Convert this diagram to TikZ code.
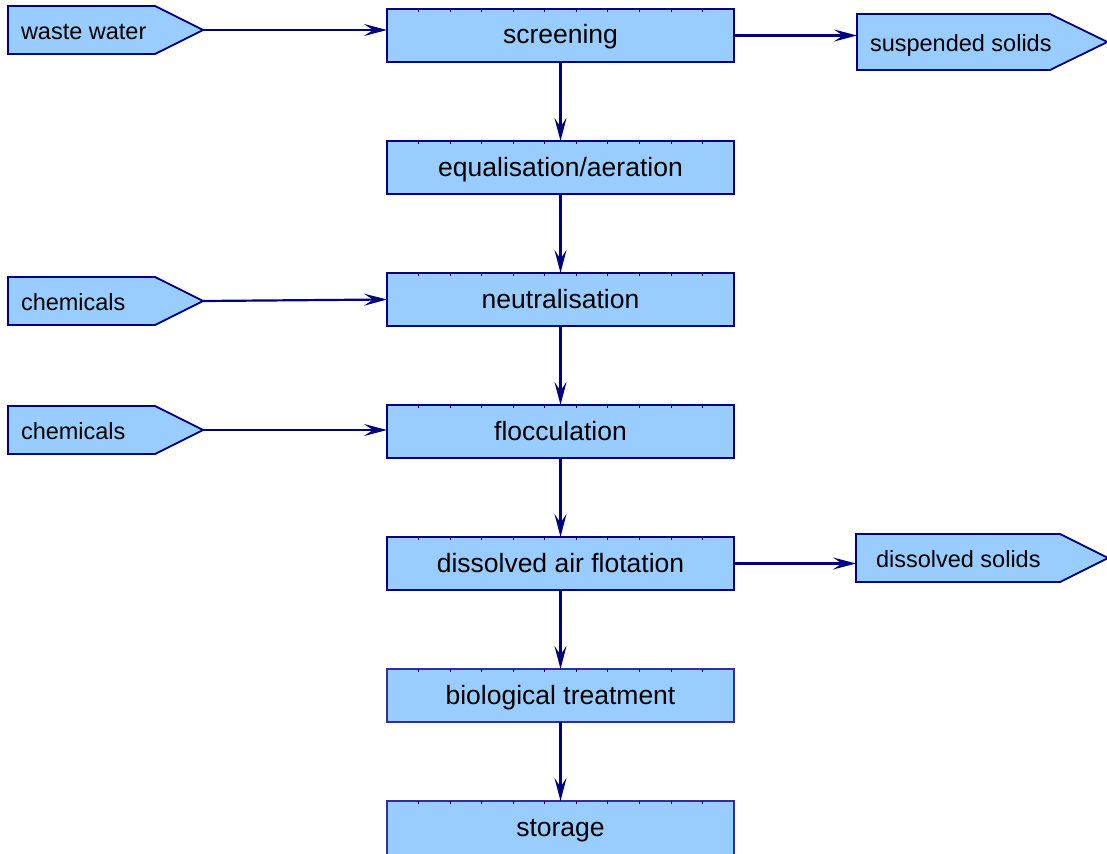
\documentclass[tikz,border=0pt]{standalone}
\usepackage{fontspec}
\setmainfont{Liberation Sans}
\usetikzlibrary{arrows.meta, positioning, shapes.symbols, calc}
\definecolor{boxfill}{RGB}{153,204,255}
\definecolor{boxline}{RGB}{0,0,128}
\definecolor{boxlinelight}{RGB}{48,48,150}

\newcommand{\taglabel}[2][121pt]{\makebox[#1][l]{#2}}

\begin{document}
\begin{tikzpicture}[
        x=1pt, y=-1pt,
        stage/.style={draw=boxline, fill=boxfill, line width=2pt, minimum width=347pt,
            minimum height=53pt, inner sep=0pt, outer sep=0pt, text height=22.5pt, text depth=5.5pt,
            font=\fontsize{26.5}{30}\selectfont},
        tagin/.style={signal, signal to=east, signal pointer angle=53, draw=boxline, fill=boxfill,
            line width=1.8pt, minimum height=48pt, inner xsep=13pt, inner ysep=0pt, outer sep=0pt,
            text height=23pt, text depth=4pt, font=\fontsize{23.5}{27}\selectfont},
        flow/.style={draw=boxline, line width=2.2pt, -{Stealth[length=23pt, width=12pt, inset=9pt]}}
    ]
        \clip (0,0) rectangle (1107,853);

        % main line of the plant
        \node[stage] (screening) at (560.5,35.5) {screening};
        \node[stage, below=79pt of screening] (equal) {equalisation/aeration};
        \node[stage, below=79pt of equal] (neutral) {neutralisation};
        \node[stage, below=79pt of neutral] (floc) {flocculation};
        \node[stage, below=79pt of floc] (daf) {dissolved air flotation};
        \node[stage, draw=boxlinelight, below=79pt of daf] (bio) {biological treatment};
        \node[stage, draw=boxlinelight, below=79pt of bio, minimum height=60pt, text depth=12.5pt] (storage) {storage};

        % small ticks along the top edges
        \foreach \s in {screening, equal, neutral, floc, daf, bio, storage}
            \foreach \k in {1,...,10}
                \draw[boxline, line width=0.8pt] ($(\s.north west)+(31.55*\k,0)$) -- ++(0,3);

        % inputs and outputs
        \node[tagin, anchor=west] (water) at (8,30) {\taglabel{waste water}};
        \node[tagin, anchor=west] (chemA) at (8,301) {\taglabel{chemicals}};
        \node[tagin, anchor=west] (chemB) at (8,430) {\taglabel{chemicals}};
        \node[tagin, anchor=west, minimum height=56pt, signal pointer angle=52] (solids) at (857,42) {\taglabel[167pt]{suspended solids}};
        \node[tagin, anchor=west, inner xsep=20pt] (dissolved) at (856,558) {\taglabel[164pt]{dissolved solids}};

        % flows
        \draw[flow] (water.east) -- (water.east -| screening.west);
        \draw[flow] (screening.east) -- (screening.east -| solids.west);
        \draw[flow] (screening) -- (equal);
        \draw[flow] (equal) -- (neutral);
        \draw[flow] (chemA.east) -- (neutral.west);
        \draw[flow] (neutral) -- (floc);
        \draw[flow] (chemB.east) -- (chemB.east -| floc.west);
        \draw[flow] (floc) -- (daf);
        \draw[flow] (daf.east) -- (daf.east -| dissolved.west);
        \draw[flow] (daf) -- (bio);
        \draw[flow] (bio) -- (storage);
    \end{tikzpicture}
\end{document}
